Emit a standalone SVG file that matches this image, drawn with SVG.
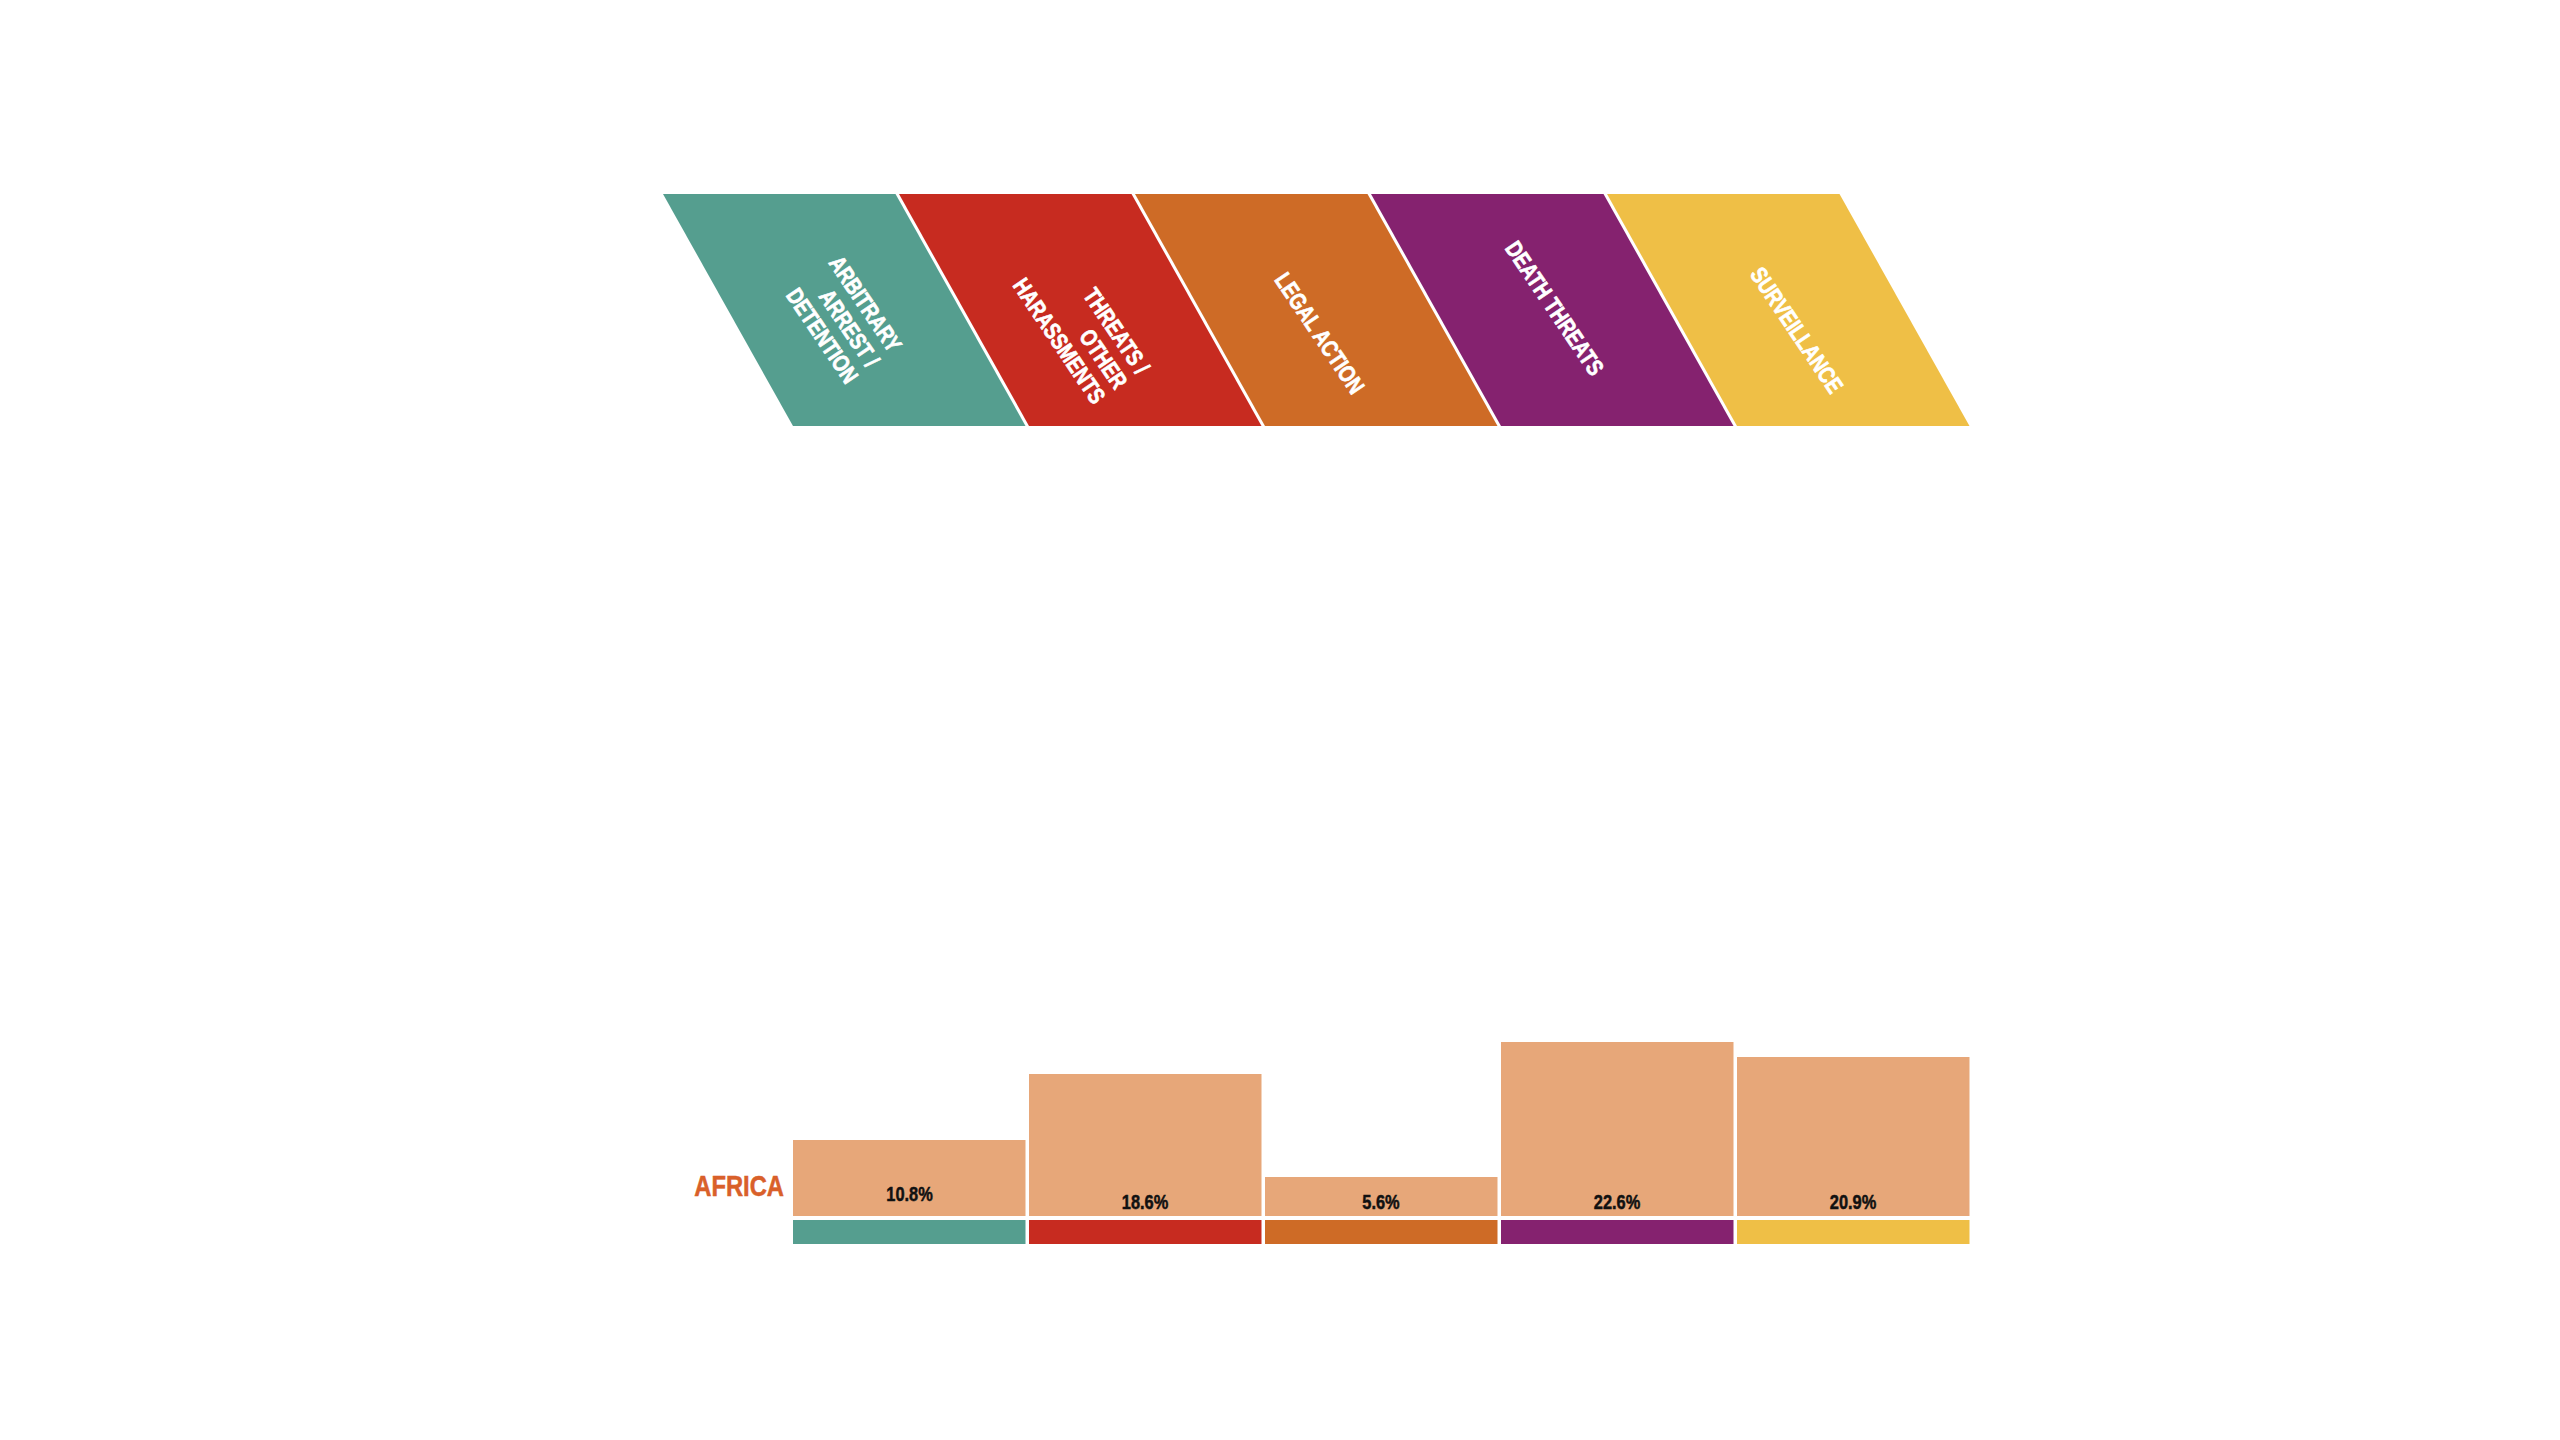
<svg xmlns="http://www.w3.org/2000/svg" width="2560" height="1440" viewBox="0 0 2560 1440">
<style>
.lbl{font-family:"Liberation Sans",Arial,sans-serif;font-weight:bold;font-size:23.5px;fill:#ffffff;stroke:#ffffff;stroke-width:0.7px}
.pct{font-family:"Liberation Sans",Arial,sans-serif;font-weight:bold;font-size:20px;fill:#111111;stroke:#111111;stroke-width:0.5px;text-anchor:middle}
.region{font-family:"Liberation Sans",Arial,sans-serif;font-weight:bold;font-size:29px;fill:#D9602A;stroke:#D9602A;stroke-width:0.5px;text-anchor:end}
.val{fill:#E7A779}
.c1{fill:#559E8F}.c2{fill:#C72B20}.c3{fill:#CE6B26}.c4{fill:#85226F}.c5{fill:#EFBF46}
</style>
<rect x="0" y="0" width="2560" height="1440" fill="#ffffff"/>

<g id="cat-arbitrary">
<polygon class="c1" points="663,194 895.5,194 1025.5,426 793,426"/>
<g transform="translate(867,369) rotate(56) scale(0.8,1)">
<text class="lbl" x="0" y="-27" text-anchor="end">ARBITRARY</text>
<text class="lbl" x="0" y="0" text-anchor="end">ARREST /</text>
<text class="lbl" x="2" y="26.5" text-anchor="end">DETENTION</text>
</g>
</g>

<g id="cat-threats">
<polygon class="c2" points="899,194 1131.5,194 1261.5,426 1029,426"/>
<g transform="translate(1137,376) rotate(56) scale(0.8,1)">
<text class="lbl" x="0" y="0" text-anchor="end">THREATS /</text>
<text class="lbl" x="0" y="26.5" text-anchor="end">OTHER</text>
<text class="lbl" x="0" y="53" text-anchor="end">HARASSMENTS</text>
</g>
</g>

<g id="cat-legal">
<polygon class="c3" points="1135,194 1367.5,194 1497.5,426 1265,426"/>
<text class="lbl" text-anchor="middle" transform="translate(1320,333) rotate(56) scale(0.8,1)" x="0" y="8.5">LEGAL ACTION</text>
</g>

<g id="cat-death">
<polygon class="c4" points="1371,194 1603.5,194 1733.5,426 1501,426"/>
<text class="lbl" text-anchor="middle" transform="translate(1555,308) rotate(56) scale(0.8,1)" x="0" y="8.5">DEATH THREATS</text>
</g>

<g id="cat-surveillance">
<polygon class="c5" points="1607,194 1839.5,194 1969.5,426 1737,426"/>
<text class="lbl" text-anchor="middle" transform="translate(1797,330) rotate(56) scale(0.8,1)" x="0" y="8.5">SURVEILLANCE</text>
</g>

<g id="region-africa">
<text class="region" transform="translate(784,1196) scale(0.82,1)" x="0" y="0">AFRICA</text>
</g>

<g id="bar-arbitrary">
<rect class="val" x="793" y="1140" width="232.5" height="76"/>
<rect class="c1" x="793" y="1220" width="232.5" height="24"/>
<text class="pct" transform="translate(909.5,1201) scale(0.82,1)">10.8%</text>
</g>
<g id="bar-threats">
<rect class="val" x="1029" y="1074" width="232.5" height="142"/>
<rect class="c2" x="1029" y="1220" width="232.5" height="24"/>
<text class="pct" transform="translate(1145,1209) scale(0.82,1)">18.6%</text>
</g>
<g id="bar-legal">
<rect class="val" x="1265" y="1177" width="232.5" height="39"/>
<rect class="c3" x="1265" y="1220" width="232.5" height="24"/>
<text class="pct" transform="translate(1381,1209) scale(0.82,1)">5.6%</text>
</g>
<g id="bar-death">
<rect class="val" x="1501" y="1042" width="232.5" height="174"/>
<rect class="c4" x="1501" y="1220" width="232.5" height="24"/>
<text class="pct" transform="translate(1617,1209) scale(0.82,1)">22.6%</text>
</g>
<g id="bar-surveillance">
<rect class="val" x="1737" y="1057" width="232.5" height="159"/>
<rect class="c5" x="1737" y="1220" width="232.5" height="24"/>
<text class="pct" transform="translate(1853,1209) scale(0.82,1)">20.9%</text>
</g>
</svg>
